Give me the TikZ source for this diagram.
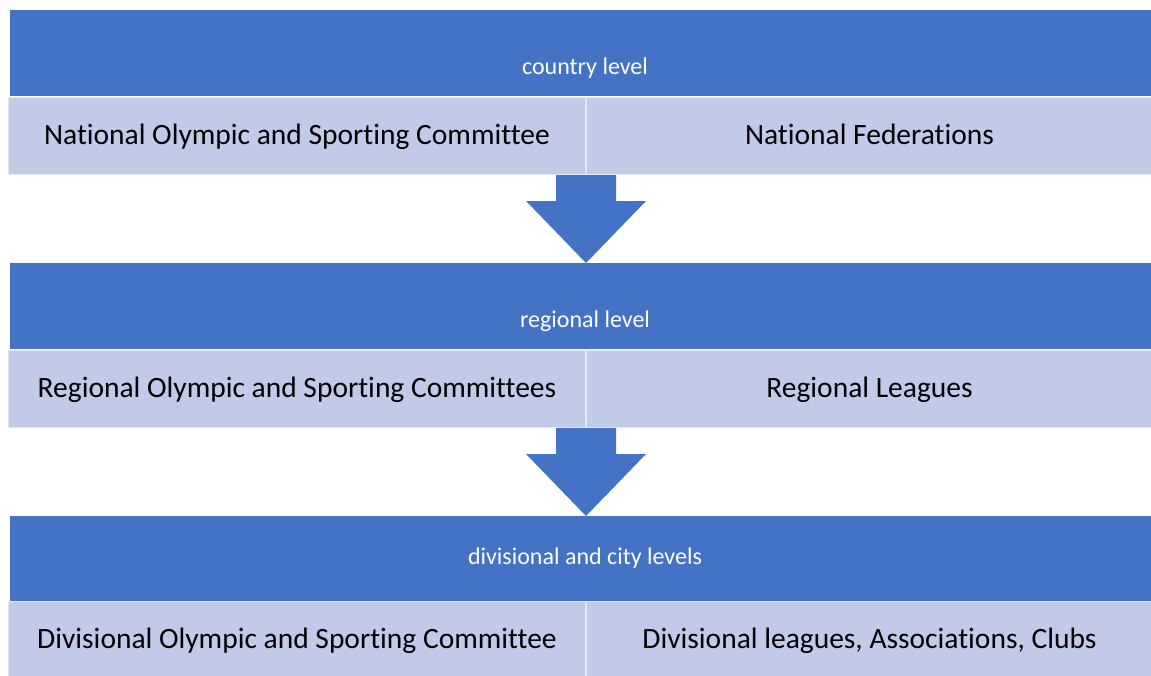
\documentclass[tikz,border=0pt]{standalone}
\usepackage{fontspec}
\setmainfont{Carlito}[Ligatures={NoCommon}]
\usetikzlibrary{positioning,calc}
\definecolor{officeblue}{HTML}{4472C4}
\definecolor{paleblue}{HTML}{C1CAE6}

\begin{document}
\begin{tikzpicture}[x=1pt, y=1pt,
  bar/.style={fill=officeblue, draw=none, minimum width=1141pt, minimum height=86pt,
              inner sep=0pt, anchor=north west},
  head/.style={text=white, font=\fontsize{24}{29}\selectfont},
  cell/.style={fill=paleblue, draw=white!55!paleblue, line width=1pt, minimum height=77pt,
               inner sep=0pt, text height=20pt, text depth=3pt,
               font=\fontsize{29.5}{35}\selectfont, anchor=north west},
  leftcell/.style={cell, minimum width=577pt},
  rightcell/.style={cell, minimum width=566pt},
  arrowfill/.style={fill=officeblue}]
\useasboundingbox (0,0) rectangle (1151,-675);
\clip (0,0) rectangle (1151,-675);
% country level
\node[bar] (cbar) at (10,-10) {};
\node[head] (ctext) at (585,-68) {country level};
\node[leftcell] (noc) at (8,-97) {National Olympic and Sporting Committee};
\node[rightcell] (fed) at (noc.north east) {National Federations};
% regional level
\node[bar] (rbar) at (10,-263) {};
\node[head] (rtext) at (585,-321) {regional level};
\node[leftcell] (roc) at (8,-350) {Regional Olympic and Sporting Committees};
\node[rightcell] (league) at (roc.north east) {Regional Leagues};
% divisional and city levels
\node[bar, minimum height=85pt] (dbar) at (10,-516) {};
\node[head] (dtext) at (585,-558) {divisional and city levels};
\node[leftcell] (doc) at (8,-601) {Divisional Olympic and Sporting Committee};
\node[rightcell] (clubs) at (doc.north east) {Divisional leagues, Associations, Clubs};
% arrows
\fill[arrowfill] ($(noc.south east)+(-30,0)$) -- ++(0,-26) -- ++(-30,0) -- (rbar.north -| noc.south east)
  -- ($(noc.south east)+(60,-26)$) -- ++(-30,0) -- ($(noc.south east)+(30,0)$) -- cycle;
\fill[arrowfill] ($(roc.south east)+(-30,0)$) -- ++(0,-26) -- ++(-30,0) -- (dbar.north -| roc.south east)
  -- ($(roc.south east)+(60,-26)$) -- ++(-30,0) -- ($(roc.south east)+(30,0)$) -- cycle;
\end{tikzpicture}
\end{document}
